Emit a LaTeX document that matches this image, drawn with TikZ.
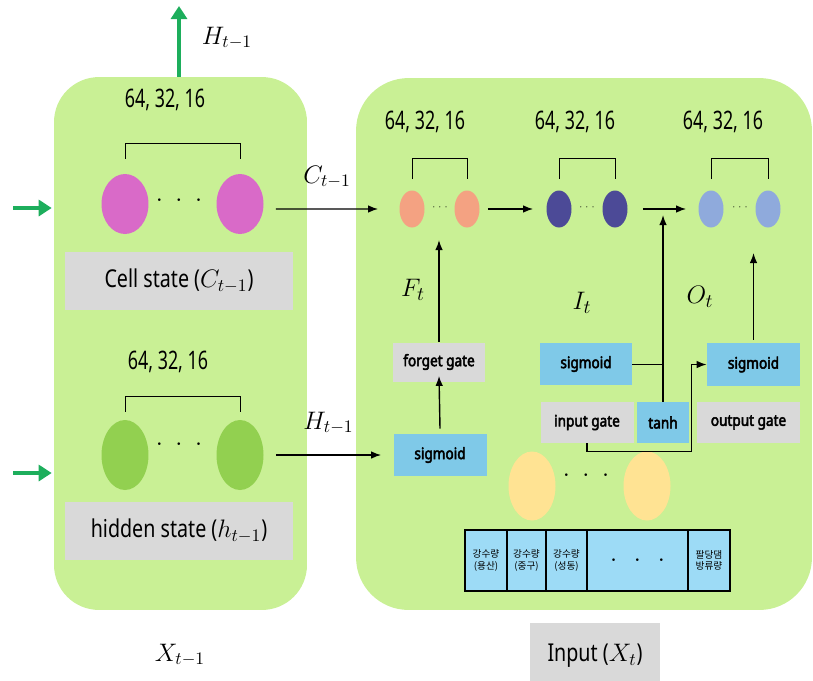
\documentclass[tikz,border=0pt]{standalone}
\usepackage{fontspec}
\setmainfont{Noto Sans}[FakeStretch=0.8]
\newfontfamily\sizefont{Noto Sans}[FakeStretch=0.7]
\newfontfamily\gatefont{Noto Sans}[FakeStretch=0.86, FakeBold=3]
\newfontfamily\krfont{Noto Sans CJK KR}
\usetikzlibrary{arrows.meta,shapes.geometric}
\definecolor{panelgreen}{HTML}{C9F095}
\definecolor{boxgray}{HTML}{D9D9D9}
\definecolor{sigblue}{HTML}{7FC9E8}
\definecolor{tabblue}{HTML}{9DDBF6}
\definecolor{arrowgreen}{HTML}{1DAE5C}
\definecolor{cellpink}{HTML}{D96AC8}
\definecolor{hidgreen}{HTML}{92D050}
\definecolor{salmon}{HTML}{F4A282}
\definecolor{darknavy}{HTML}{4C4A97}
\definecolor{paleblue}{HTML}{8FAADC}
\definecolor{inyellow}{HTML}{FFE393}
\newcommand{\sym}[1]{{\fontsize{14.5}{16}\selectfont$#1$}}

\begin{document}
\begin{tikzpicture}[
  x=0.02cm, y=-0.02cm,
  panel/.style={rectangle, rounded corners=0.9cm, fill=panelgreen, inner sep=0pt},
  cellunit/.style={ellipse, minimum width=0.94cm, minimum height=1.2cm, inner sep=0pt},
  hidunit/.style={ellipse, minimum width=0.94cm, minimum height=1.4cm, inner sep=0pt},
  smallunit/.style={ellipse, minimum width=0.5cm, minimum height=0.74cm, inner sep=0pt},
  graybox/.style={rectangle, fill=boxgray, inner sep=0pt},
  sigbox/.style={rectangle, fill=sigblue, inner sep=0pt},
  gatetext/.style={font=\gatefont\fontsize{9}{11}\selectfont},
  bigtext/.style={font=\fontsize{14}{17}\selectfont},
  sizetext/.style={font=\sizefont\fontsize{14.5}{17}\selectfont},
  mathlabel/.style={font=\fontsize{14.5}{16}\selectfont},
  gatelabel/.style={font=\fontsize{15.5}{17}\selectfont},
  tabcell/.style={rectangle, draw=black, line width=1.3pt, fill=tabblue, minimum height=1.22cm, inner sep=0pt, align=center, font=\krfont\fontsize{5.5}{6.5}\selectfont},
  arrow/.style={-{Latex[length=2mm]}, thick},
  greenarrow/.style={-{Triangle[length=2.6mm,width=3.2mm]}, line width=1.8pt, draw=arrowgreen},
  bracket/.style={thin}
]
\useasboundingbox (0,0) rectangle (813,680);

% two panels
\node[panel, minimum width=5.06cm, minimum height=10.66cm] (lpanel) at (180.5,343.5) {};
\node[panel, rounded corners=1.05cm, minimum width=9.12cm, minimum height=10.64cm] (rpanel) at (584,344) {};

% left panel: cell state
\node[sizetext] (lsize1) at (165,100) {64, 32, 16};
\node[cellunit, fill=cellpink] (cell1) at (125,204) {};
\node[cellunit, fill=cellpink] (cell2) at (240,204) {};
\node (celldots) at (179,201) {\Large$\cdot\;\cdot\;\cdot$};
\draw[bracket] ([yshift=0.3cm]cell1.north) -- ++(0,0.3cm) -| ([yshift=0.3cm]cell2.north);
\node[graybox, minimum width=4.56cm, minimum height=1.16cm, bigtext] (cellstate) at (179,281) {Cell state (\sym{C_{t-1}})};

% left panel: hidden state
\node[sizetext] (lsize2) at (168,362) {64, 32, 16};
\node[hidunit, fill=hidgreen] (hid1) at (125,455) {};
\node[hidunit, fill=hidgreen] (hid2) at (240,455) {};
\node (hiddots) at (179,445) {\Large$\cdot\;\cdot\;\cdot$};
\draw[bracket] ([yshift=0.16cm]hid1.north) -- ++(0,0.3cm) -| ([yshift=0.16cm]hid2.north);
\node[graybox, minimum width=4.56cm, minimum height=1.16cm, bigtext] (hidstate) at (179,531) {hidden state (\sym{h_{t-1}})};
\node[mathlabel] (xprev) at (180,655) {$X_{t-1}$};

% green in/out arrows
\coordinate (cin) at (13,208);
\coordinate (hin) at (13,473);
\coordinate (hout) at (179,6);
\draw[greenarrow] (cin) -- ([xshift=-0.04cm]cin -| lpanel.west);
\draw[greenarrow] (hin) -- ([xshift=-0.04cm]hin -| lpanel.west);
\draw[greenarrow] (hout |- lpanel.north) -- (hout);
\node[mathlabel] (hlabel) at (227,38) {$H_{t-1}$};

% right panel: three layers
\node[sizetext] (fsize) at (425,122) {64, 32, 16};
\node[sizetext] (isize) at (575,122) {64, 32, 16};
\node[sizetext] (osize) at (723,122) {64, 32, 16};
\node[smallunit, fill=salmon] (f1) at (412,209) {};
\node[smallunit, fill=salmon] (f2) at (467,209) {};
\node[smallunit, fill=darknavy] (i1) at (559,209) {};
\node[smallunit, fill=darknavy] (i2) at (615,209) {};
\node[smallunit, fill=paleblue] (o1) at (711,209) {};
\node[smallunit, fill=paleblue] (o2) at (768,209) {};
\node[font=\tiny] (fdots) at (440,207) {$\cdots$};
\node[font=\tiny] (idots) at (587,207) {$\cdots$};
\node[font=\tiny] (odots) at (740,207) {$\cdots$};
\draw[bracket] ([yshift=0.22cm]f1.north) -- ++(0,0.42cm) -| ([yshift=0.22cm]f2.north);
\draw[bracket] ([yshift=0.22cm]i1.north) -- ++(0,0.42cm) -| ([yshift=0.22cm]i2.north);
\draw[bracket] ([yshift=0.22cm]o1.north) -- ++(0,0.42cm) -| ([yshift=0.22cm]o2.north);

% gates
\node[graybox, gatetext, minimum width=1.84cm, minimum height=0.78cm] (forget) at (439,362) {forget gate};
\node[sigbox, gatetext, minimum width=1.86cm, minimum height=0.84cm] (fsig) at (440,455) {sigmoid};
\node[sigbox, gatetext, minimum width=1.84cm, minimum height=0.84cm] (isig) at (586,364) {sigmoid};
\node[graybox, gatetext, minimum width=1.86cm, minimum height=0.82cm] (igate) at (587,422.5) {input gate};
\node[sigbox, gatetext, minimum width=1.04cm, minimum height=0.82cm] (tanh) at (663,422.5) {tanh};
\node[graybox, gatetext, minimum width=2.06cm, minimum height=0.82cm] (ogate) at (748.5,422.5) {output gate};
\node[sigbox, gatetext, minimum width=1.86cm, minimum height=0.86cm] (osig) at (753.5,364.5) {sigmoid};
\node[gatelabel] (flabel) at (413,290) {$F_t$};
\node[gatelabel] (ilabel) at (582,303) {$I_t$};
\node[gatelabel] (olabel) at (700,297) {$O_t$};

% input layer
\node[ellipse, fill=inyellow, minimum width=0.94cm, minimum height=1.38cm, inner sep=0pt] (in1) at (532,486) {};
\node[ellipse, fill=inyellow, minimum width=0.94cm, minimum height=1.38cm, inner sep=0pt] (in2) at (647,486) {};
\node (indots) at (586,476) {\Large$\cdot\;\cdot\;\cdot$};

% input table
\node[tabcell, minimum width=0.84cm] (t1) at (486,560.5) {강수량\\(용산)};
\node[tabcell, minimum width=0.78cm] (t2) at (526.5,560.5) {강수량\\(중구)};
\node[tabcell, minimum width=0.82cm] (t3) at (566.5,560.5) {강수량\\(성동)};
\node[tabcell, minimum width=2.02cm, font=\Large] (t4) at (637.5,560.5) {$\cdot\;\,\cdot\;\,\cdot$};
\node[tabcell, minimum width=0.84cm] (t5) at (709,560.5) {팔당댐\\방류량};
\node[graybox, bigtext, minimum width=2.6cm, minimum height=1.3cm] (input) at (595,655.5) {Input (\sym{X_t})};

% connections between panels
\draw[arrow] ([xshift=0.24cm,yshift=-0.1cm]cell2.east) -- ([xshift=-0.42cm]f1.west) node[midway, above=8pt, mathlabel] (clabel) {$C_{t-1}$};
\draw[arrow] ([xshift=0.24cm]hid2.east) -- ([xshift=-0.24cm]fsig.west) node[midway, above=8pt, mathlabel] (hlabel2) {$H_{t-1}$};

% gate flow
\draw[arrow] (f2.east) ++(0.16cm,0) -- ([xshift=-0.26cm]i1.west);
\draw[arrow] (i2.east) ++(0.3cm,0) -- ([xshift=-0.24cm]o1.west);
\draw[arrow] (fsig.north) ++(0,0.1cm) -- ([yshift=0.12cm]forget.south);
\draw[arrow] (forget.north) -- (forget.north |- 0,240);
\draw[arrow] (tanh.north) -- (tanh.north |- 0,215);
\draw (isig.east) -- (isig.east -| tanh.north);
\draw[arrow] (osig.north) ++(0,0.06cm) -- (osig.north |- 0,253);
\draw[arrow] (igate.south) -- ++(0,-0.16cm) -| ([xshift=0.04cm]tanh.east |- osig.west) -- (osig.west);
\end{tikzpicture}
\end{document}
